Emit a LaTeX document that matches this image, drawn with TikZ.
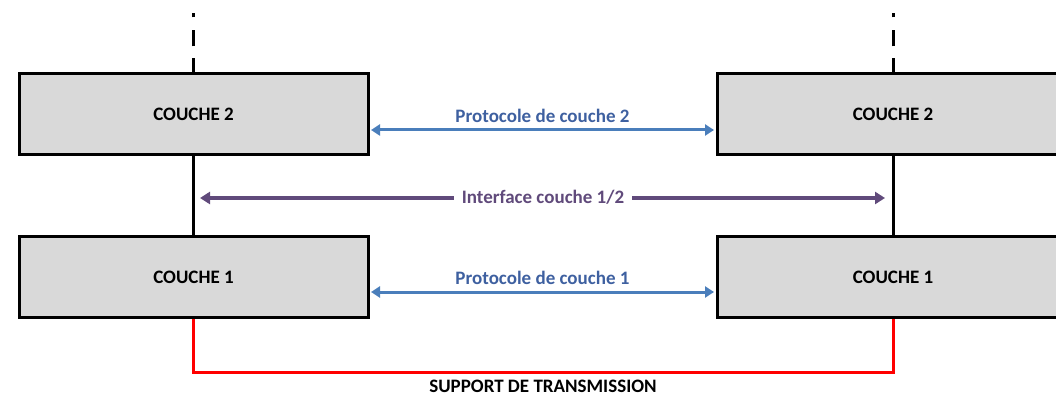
\documentclass[tikz,border=0pt]{standalone}
\usepackage{fontspec}
\setmainfont{Carlito}
\usetikzlibrary{arrows.meta}
\definecolor{boxgray}{RGB}{217,217,217}
\definecolor{protoblue}{RGB}{74,126,187}
\definecolor{protolabel}{RGB}{62,96,160}
\definecolor{ifpurple}{RGB}{96,74,123}
\definecolor{suppred}{RGB}{255,0,0}
\tikzset{
  layerbox/.style={draw=black, line width=3pt, fill=boxgray, minimum width=349pt, minimum height=81pt, inner sep=0pt, font=\fontsize{19}{22}\selectfont\bfseries, text=black},
  protoarrow/.style={draw=protoblue, line width=3pt, {Triangle[length=9pt,width=11pt]}-{Triangle[length=9pt,width=11pt]}, shorten <=1.5pt, shorten >=1.5pt},
  protolbl/.style={font=\fontsize{19}{22}\selectfont\bfseries, text=protolabel, inner sep=0pt},
  ifarrow/.style={draw=ifpurple, line width=4pt, {Triangle[length=10pt,width=12pt]}-{Triangle[length=10pt,width=12pt]}},
  iflbl/.style={font=\fontsize{19}{22}\selectfont\bfseries, text=ifpurple, fill=white, inner xsep=8pt, inner ysep=2pt},
  blackline/.style={draw=black, line width=3pt},
  dashline/.style={draw=black, line width=3pt, dash pattern=on 14pt off 12pt on 16pt off 13pt on 8pt off 0pt},
  redline/.style={draw=suppred, line width=3pt, line join=miter},
  supplbl/.style={font=\fontsize{19}{22}\selectfont\bfseries, text=black, inner sep=0pt}
}
\begin{document}
\begin{tikzpicture}[x=1pt,y=-1pt]
\useasboundingbox (0,0) rectangle (1056,395);
\begin{scope}
\clip (0,0) rectangle (1056,395);
\node[layerbox] (l2) at (193.5,114.5) {COUCHE 2};
\node[layerbox] (l1) at (193.5,277) {COUCHE 1};
\node[layerbox, minimum width=352pt] (r2) at (893,114.5) {COUCHE 2};
\node[layerbox, minimum width=352pt] (r1) at (893,277) {COUCHE 1};
\end{scope}
% top dashed lines
\coordinate (tl) at (193,13);
\coordinate (tr) at (893,13);
\draw[dashline] (l2.north -| tl) -- (tl);
\draw[dashline] (r2.north -| tr) -- (tr);
% vertical black connections
\draw[blackline] (l2.south -| tl) -- (l1.north -| tl);
\draw[blackline] (r2.south -| tr) -- (r1.north -| tr);
% protocol arrows
\draw[protoarrow] ([yshift=-15.5pt]l2.east) -- ([yshift=-15.5pt]r2.west);
\node[protolbl] (p2) at (542.5,116) {Protocole de couche 2};
\draw[protoarrow] ([yshift=-15pt]l1.east) -- ([yshift=-15pt]r1.west);
\node[protolbl] (p1) at (542.5,278) {Protocole de couche 1};
% interface arrow
\coordinate (ia) at (200,198);
\coordinate (ib) at (885,198);
\draw[ifarrow] (ia) -- (ib);
\node[iflbl] (il) at (543,197) {Interface couche 1/2};
% transmission support
\coordinate (sa) at (193,372);
\coordinate (sb) at (893,372);
\draw[redline] (l1.south -| sa) -- (sa) -- (sb) -- (r1.south -| sb);
\node[supplbl] (sl) at (543,386) {SUPPORT DE TRANSMISSION};
\end{tikzpicture}
\end{document}
